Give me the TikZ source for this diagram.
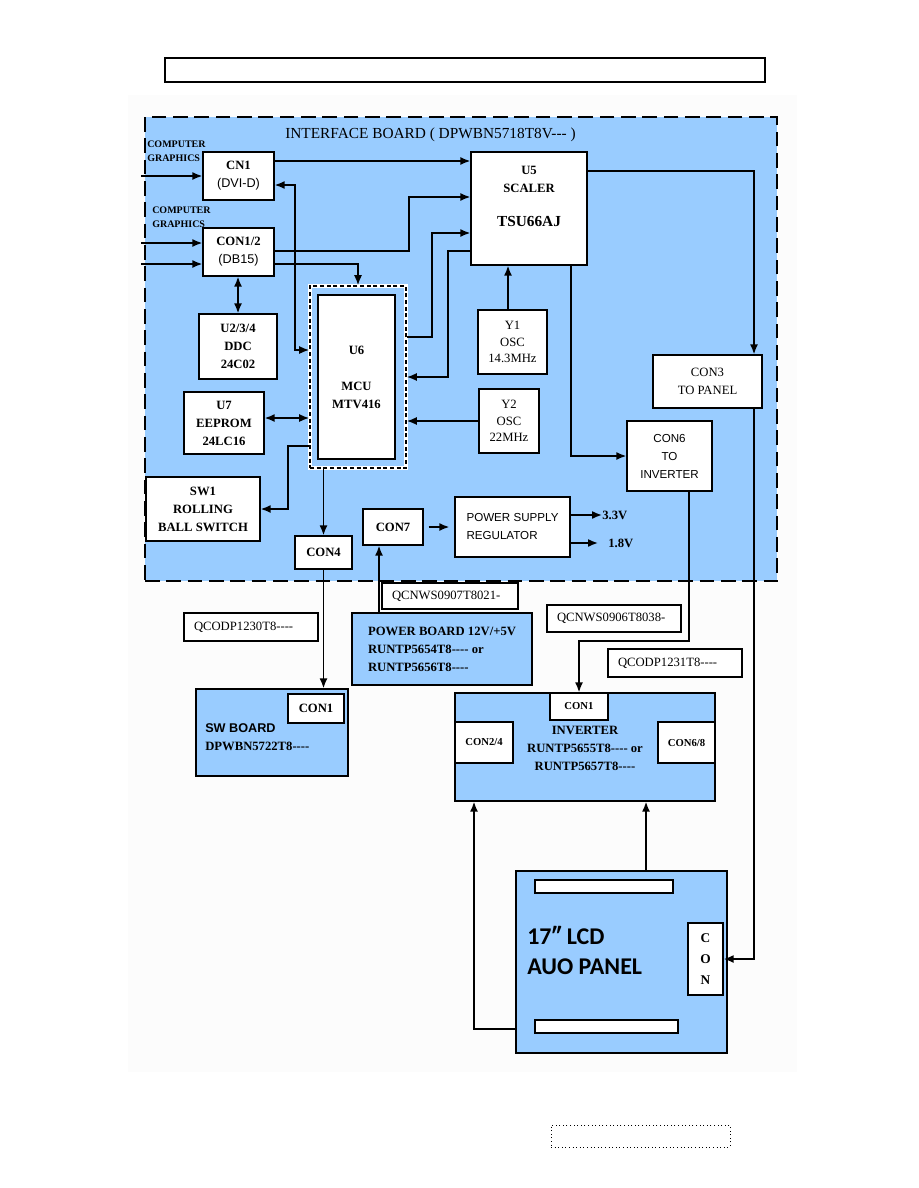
\documentclass[tikz,border=0pt]{standalone}
\usepackage{fontspec}
\setmainfont{Liberation Serif}[Ligatures=TeXOff]
\setsansfont{Liberation Sans}[Ligatures=TeXOff]
\newfontfamily\panelfont{Carlito}
\usetikzlibrary{arrows.meta}
\definecolor{boardblue}{RGB}{153,204,255}
\definecolor{pagegray}{RGB}{252,252,252}
\tikzset{
  sz/.style 2 args={minimum width=#1*0.75pt, minimum height=#2*0.75pt},
  box/.style={draw, fill=white, line width=1pt, inner sep=0pt, align=center,
    font=\bfseries\fontsize{9.5}{13.5}\selectfont},
  oscbox/.style={box, font=\fontsize{9.5}{12.5}\selectfont},
  sansbox/.style={box, font=\sffamily\fontsize{8.7}{13.5}\selectfont},
  smallcon/.style={box, font=\bfseries\fontsize{8}{10}\selectfont},
  board/.style={box, fill=boardblue},
  tag/.style={draw, fill=white, line width=.9pt, align=left, inner xsep=7.5pt,
    inner ysep=0pt, font=\fontsize{9.5}{12}\selectfont, text width=#1},
  txt/.style={inner sep=0pt, align=left, font=\bfseries\fontsize{9.5}{13.5}\selectfont},
  cgtxt/.style={inner sep=0pt, anchor=west, align=left,
    font=\bfseries\fontsize{7.5}{10.5}\selectfont},
  arr/.style={-{Latex[length=7.5pt,width=6pt]}, line width=1.15pt},
  darr/.style={{Latex[length=7.5pt,width=6pt]}-{Latex[length=7.5pt,width=6pt]}, line width=1.15pt}
}
\begin{document}
\begin{tikzpicture}[x=0.75pt, y=-0.75pt]
  \useasboundingbox (0,0) rectangle (918,1188);
  \fill[pagegray] (128,95) rectangle (797,1072);
  \node[draw, line width=1pt, sz={600}{24}] (header) at (465,70) {};
  \node[draw, dotted, line width=.7pt, sz={179}{22}] (pageno) at (640.5,1136) {};

  \node[draw, fill=boardblue, line width=2.2pt, dash pattern=on 11pt off 5pt,
        sz={632}{464}] (ifb) at (461,349) {};
  \node[font=\fontsize{11.5}{13}\selectfont, anchor=west, inner sep=0pt] (ifbtitle)
        at (285,135) {INTERFACE BOARD ( DPWBN5718T8V--- )};
  \node[cgtxt] (cg1) at (147,151) {COMPUTER\\GRAPHICS};
  \node[cgtxt] (cg2) at (152,217) {COMPUTER\\GRAPHICS};
  \coordinate (in1) at (141,176);
  \coordinate (in2) at (141,243);
  \coordinate (in3) at (141,264);

  \node[box, sz={71}{48}] (cn1) at (238.5,176) {CN1\\{\mdseries\sffamily (DVI-D)}};
  \node[box, sz={71}{48}] (con12) at (238.5,252) {CON1/2\\{\mdseries\sffamily (DB15)}};
  \node[box, sz={116}{113}] (u5) at (529,208.5) {};
  \node[txt, align=center] (u5name) at (529,196)
        {U5\\SCALER\\[12pt]{\fontsize{11.5}{14}\selectfont TSU66AJ}};
  \node[draw, line width=1.2pt, dash pattern=on 3pt off 2pt,
        preaction={draw=white, solid, line width=2.6pt}, sz={96}{182}] (u6) at (358,377) {};
  \node[box, sz={77}{164}] (u6core) at (356.5,377) {U6\\[13.5pt]MCU\\MTV416};
  \node[box, sz={78}{65}] (ddc) at (238,346.5) {U2/3/4\\DDC\\24C02};
  \node[box, sz={80}{62}] (u7) at (224,423) {U7\\EEPROM\\24LC16};
  \node[box, sz={114}{64}] (sw1) at (203,509) {SW1\\ROLLING\\BALL SWITCH};
  \node[box, sz={57}{33}] (con4) at (323.5,552.5) {CON4};
  \node[box, sz={60}{36}] (con7) at (393,527) {CON7};
  \node[sansbox, sz={115}{60}, align=left] (psu) at (512.5,527) {POWER SUPPLY\\REGULATOR};
  \node[txt, anchor=west] (v33) at (602,515) {3.3V};
  \node[txt, anchor=west] (v18) at (608,543) {1.8V};
  \node[oscbox, sz={69}{64}] (y1) at (512.5,342) {Y1\\OSC\\14.3MHz};
  \node[oscbox, sz={60}{64}] (y2) at (509,421) {Y2\\OSC\\22MHz};
  \node[oscbox, sz={109}{53}, font=\fontsize{9.5}{13.5}\selectfont] (con3)
        at (707.5,381.5) {CON3\\TO PANEL};
  \node[sansbox, sz={85}{70}] (con6) at (669.5,456) {CON6\\TO\\INVERTER};

  \node[tag=87pt, minimum height=19.5pt] (qcn1) at (450,596) {QCNWS0907T8021-};
  \node[tag=85.5pt, minimum height=21pt] (qco1) at (251,627) {QCODP1230T8----};
  \node[tag=85.5pt, minimum height=20.25pt] (qcn2) at (614,618.5) {QCNWS0906T8038-};
  \node[tag=85.5pt, minimum height=21pt] (qco2) at (675,663) {QCODP1231T8----};
  \node[board, sz={180}{72}, align=left] (pwr) at (442,649)
        {POWER BOARD 12V/+5V\\RUNTP5654T8---- or\\RUNTP5656T8----};

  \node[board, sz={152}{87}] (swb) at (272,732.5) {};
  \node[box, sz={56}{29}] (swcon1) at (316,708.5) {CON1};
  \node[txt, anchor=west] (swbname) at (205,737) {{\sffamily SW BOARD}\\DPWBN5722T8----};

  \node[board, sz={260}{108}] (inv) at (585,747) {};
  \node[smallcon, sz={58}{27}] (invcon1) at (579,706.5) {CON1};
  \node[smallcon, sz={58}{41}] (con24) at (484,742.5) {CON2/4};
  \node[smallcon, sz={57}{41}] (con68) at (686.5,742.5) {CON6/8};
  \node[txt, align=center] (invname) at (585,748)
        {INVERTER\\RUNTP5655T8---- or\\RUNTP5657T8----};

  \node[board, sz={211}{182}] (panel) at (621.5,962) {};
  \node[box, sz={138}{13}] (bar1) at (604,886.5) {};
  \node[box, sz={143}{13}] (bar2) at (606.5,1026.5) {};
  \node[box, sz={35}{72}, font=\bfseries\fontsize{10}{16}\selectfont] (pcon)
        at (705.5,959) {C\\O\\N};
  \node[txt, anchor=west, font=\panelfont\bfseries\fontsize{18}{22.5}\selectfont]
        (panelname) at (527,950) {17″ LCD\\AUO PANEL};

  \draw[arr] (in1) -- (cn1.west);
  \draw[arr] (in2) -- (in2-|con12.west);
  \draw[arr] (in3) -- (in3-|con12.west);
  \draw[arr] (cn1.east|-0,161) -- (u5.west|-0,161);
  \draw[darr] (cn1.east|-0,185) -| (295,350) -- (u6.west|-0,350);
  \draw[arr] (con12.east|-0,251) -| (409,197) -- (u5.west|-0,197);
  \draw[arr] (con12.east|-0,264) -| (u6.north);
  \draw[darr] (ddc.north|-con12.south) -- (ddc.north);
  \draw[arr] (u6.east|-0,337) -| (432,233) -- (u5.west|-0,233);
  \draw[arr] (u5.west|-0,251) -| (448,377) -- (u6.east);
  \draw[arr] (y2.west) -- (y2.west-|u6.east);
  \draw[arr] (y1.north-|508,0) -- (u5.south-|508,0);
  \draw[darr] (u7.east|-0,418) -- (u6.west|-0,418);
  \draw[arr] (u6.west|-0,446) -| (288,509) -- (sw1.east);
  \draw[arr] (con4.north|-u6.south) -- (con4.north);
  \draw[arr] (con4.south) -- (con4.south|-swb.north);
  \draw[arr, shorten <=3.75pt, shorten >=3.75pt] (con7.east) -- (con7.east-|psu.west);
  \draw[arr] (psu.east|-0,515) -- (v33.west);
  \draw[arr] (psu.east|-0,543) -- ([xshift=-7.5pt]v18.west);
  \draw[arr] (pwr.north-|379,0) -- (379,0|-con7.south);
  \draw[arr] (u5.east|-0,171) -| (754,0|-con3.north);
  \draw[arr] (con3.south-|754,0) |- (pcon.east);
  \draw[arr] (u5.south-|571,0) |- (con6.west);
  \draw[arr] (con6.south-|689,0) |- (invcon1.north|-0,641) -- (invcon1.north);
  \draw[arr] (panel.north-|646,0) -- (646,0|-inv.south);
  \draw[arr] (panel.west|-0,1029) -| (474,0|-inv.south);
\end{tikzpicture}
\end{document}
